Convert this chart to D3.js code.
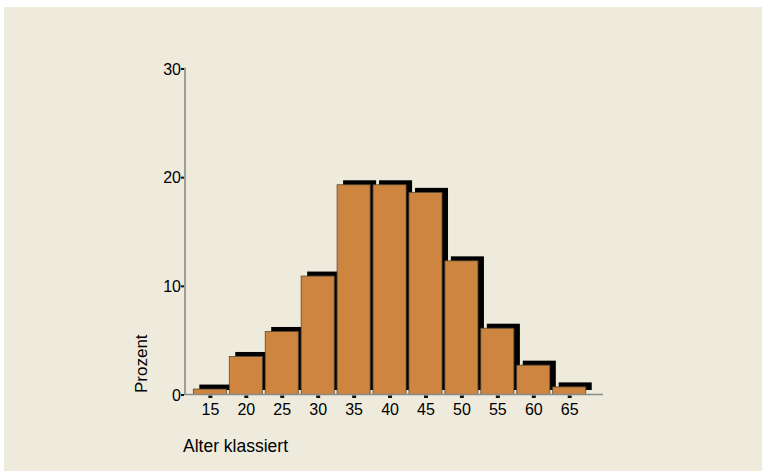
<!DOCTYPE html>
<html>
<head>
<meta charset="utf-8">
<script src="https://cdn.jsdelivr.net/npm/d3@7"></script>
<style>
  html, body { margin: 0; padding: 0; background: #ffffff; }
  svg { display: block; font-family: "Liberation Sans", Arial, sans-serif; }
</style>
</head>
<body>
<svg id="chart" width="762" height="472"></svg>
<script>
// Age classes (class midpoints) and share of respondents in percent
const ageClasses = [15, 20, 25, 30, 35, 40, 45, 50, 55, 60, 65];
const percentValues = [0.5, 3.5, 5.8, 10.9, 19.3, 19.3, 18.6, 12.3, 6.1, 2.7, 0.7];
const yTicks = [0, 10, 20, 30];
const xTitle = "Alter klassiert";
const yTitle = "Prozent";

const svg = d3.select("#chart");

// Panel background
svg.append("rect")
  .attr("x", 4).attr("y", 7)
  .attr("width", 758).attr("height", 464)
  .attr("fill", "#eeebdd");

const x = d3.scaleLinear().domain([11.4, 69.7]).range([184, 603]);
const y = d3.scaleLinear().domain([0, 30]).range([394.5, 68.5]);

const halfWidth = 2.3;      // half bar width in age units
const shadowDx = 6, shadowDy = -4.5;

const data = ageClasses.map((a, i) => ({ age: a, value: percentValues[i] }));

// Drop shadows behind the bars
svg.append("g").selectAll("rect")
  .data(data).join("rect")
  .attr("x", d => x(d.age - halfWidth) + shadowDx)
  .attr("y", d => y(d.value) + shadowDy)
  .attr("width", d => x(d.age + halfWidth) - x(d.age - halfWidth))
  .attr("height", d => y(0) - y(d.value))
  .attr("fill", "#000000");

// Bars
svg.append("g").selectAll("rect")
  .data(data).join("rect")
  .attr("x", d => x(d.age - halfWidth))
  .attr("y", d => y(d.value))
  .attr("width", d => x(d.age + halfWidth) - x(d.age - halfWidth))
  .attr("height", d => y(0) - y(d.value))
  .attr("fill", "#cd853f")
  .attr("stroke", "#5a4a36")
  .attr("stroke-width", 0.8);

// Axis lines
svg.append("line")
  .attr("x1", x.range()[0]).attr("x2", x.range()[1])
  .attr("y1", y(0)).attr("y2", y(0))
  .attr("stroke", "#8a8a8a").attr("stroke-width", 1.4);
svg.append("line")
  .attr("x1", x.range()[0] + 1).attr("x2", x.range()[0] + 1)
  .attr("y1", y(30) - 1).attr("y2", y(0))
  .attr("stroke", "#8a8a8a").attr("stroke-width", 1.6);

// X axis ticks and labels
const xAxis = d3.axisBottom(x).tickValues(ageClasses).tickSize(0).tickPadding(0);
const gx = svg.append("g").attr("transform", `translate(0,${y(0)})`).call(xAxis);
gx.select(".domain").remove();
gx.selectAll(".tick line").remove();
gx.selectAll(".tick").append("rect")
  .attr("x", -2).attr("y", 1).attr("width", 4).attr("height", 2.5)
  .attr("fill", "#111");
gx.selectAll(".tick text")
  .attr("fill", "#000").attr("font-size", 16)
  .attr("font-family", "Liberation Sans, Arial, sans-serif")
  .attr("dy", null).attr("y", 20);

// Y axis ticks and labels
const yAxis = d3.axisLeft(y).tickValues(yTicks).tickSize(0).tickPadding(0);
const gy = svg.append("g").attr("transform", `translate(${x.range()[0]},0)`).call(yAxis);
gy.select(".domain").remove();
gy.selectAll(".tick line").remove();
gy.selectAll(".tick").append("rect")
  .attr("x", -3).attr("y", -1).attr("width", 3).attr("height", 2)
  .attr("fill", "#111");
gy.selectAll(".tick text")
  .attr("fill", "#000").attr("font-size", 16)
  .attr("font-family", "Liberation Sans, Arial, sans-serif")
  .attr("x", -3).attr("dy", "0.35em");

// Axis titles
svg.append("text")
  .attr("x", 183).attr("y", 452)
  .attr("font-size", 17.5).attr("fill", "#000")
  .text(xTitle);
svg.append("text")
  .attr("transform", "translate(147,393) rotate(-90)")
  .attr("text-anchor", "start")
  .attr("font-size", 17).attr("fill", "#000")
  .text(yTitle);
</script>
</body>
</html>
